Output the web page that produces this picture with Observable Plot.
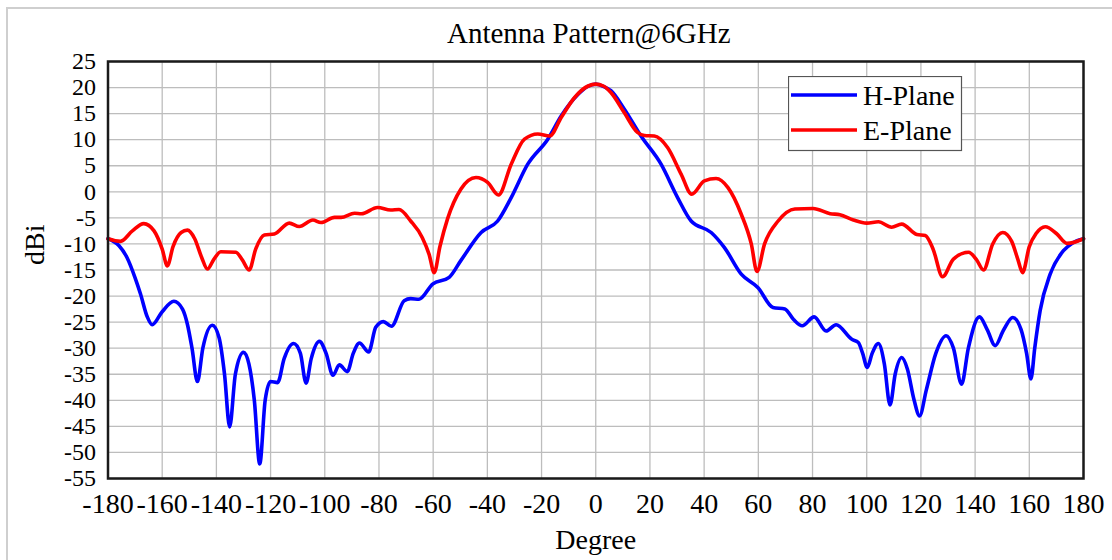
<!DOCTYPE html>
<html>
<head>
<meta charset="utf-8">
<script src="https://cdn.jsdelivr.net/npm/d3@7"></script>
<script src="https://cdn.jsdelivr.net/npm/@observablehq/plot@0.6"></script>
<style>
  html, body { margin: 0; padding: 0; background: #fff; }
  #wrap { position: relative; width: 1112px; height: 560px; overflow: hidden; }
  .edge { position: absolute; background: #cfcfcf; }
  #legend { position: absolute; left: 788px; top: 76px; }
</style>
</head>
<body>
<div id="wrap">
  <div class="edge" style="left:6px; top:7px; width:1106px; height:2px;"></div>
  <div class="edge" style="left:6px; top:7px; width:2px; height:553px;"></div>
  <div id="chart"></div>
  <div id="legend"></div>
</div>
<script>
// ---- data ----
const title = "Antenna Pattern@6GHz";
const xLabel = "Degree";
const yLabel = "dBi";
const seriesNames = ["H-Plane", "E-Plane"];
const seriesColors = ["#0000ff", "#ff0000"];
const xTicks = [-180,-160,-140,-120,-100,-80,-60,-40,-20,0,20,40,60,80,100,120,140,160,180];
const yTicks = [25,20,15,10,5,0,-5,-10,-15,-20,-25,-30,-35,-40,-45,-50,-55];

const hDeg = [-180,-176,-173,-170,-168,-165.5,-163.7,-160,-155.7,-152.5,-150.7,-149,-147,-145,-141.5,-139,-137,-135.1,-133,-130,-128,-126,-124,-122,-120,-117.4,-115,-111.5,-109,-106.9,-105,-102,-99.5,-97,-94.6,-91.7,-89.5,-87.2,-83.8,-81.2,-78.4,-75.4,-70.7,-68.3,-65.2,-60.2,-54.1,-49.8,-42.3,-36.2,-31.2,-25.1,-17.7,-12.7,-6.5,-3,0,3,5.6,10.5,16.7,24.1,30.2,35.2,42.6,47.5,53.7,59.9,65.4,69.8,73,76.2,80.6,85,88.7,94.5,96.9,98.5,100.2,102,104.3,106.5,108.6,110.5,112.9,115,117.5,119.5,122,125.5,129.3,132,135,137.5,141.6,144.5,147.4,150.5,153.9,157,159,160.6,162,164,167.7,172.6,176,180];
const hVal = [-9,-10.3,-12.6,-16.5,-19.6,-24,-25.5,-23,-21.0,-22.5,-25.4,-30,-36.4,-30,-25.6,-28,-35,-45.1,-35,-30.8,-33,-40,-52.2,-40,-36.4,-36.6,-32,-29.1,-31,-36.7,-32,-28.7,-31,-35.2,-33.2,-34.5,-31,-29.0,-30.7,-26.0,-24.9,-25.8,-20.9,-20.5,-20.6,-17.7,-16.4,-13.2,-7.8,-5.6,-1.1,5.3,10.1,14.6,18.7,20.2,20.65,20.2,19.4,15.9,10.7,5.3,-1.1,-5.6,-7.8,-10.7,-15.8,-18.4,-22.2,-22.5,-24.5,-25.7,-24.0,-26.7,-25.5,-28.3,-28.9,-31,-33.7,-31,-29.1,-33,-40.9,-35,-31.8,-34,-40,-43.0,-38,-31,-27.6,-30,-36.9,-30,-24.0,-26.5,-29.5,-26.5,-24.1,-26.5,-31,-35.9,-30,-22.8,-15.8,-11.3,-9.8,-9.0];

const eDeg = [-180,-175.4,-171,-166.8,-163,-160,-158.1,-156,-153,-150.7,-148,-145.5,-143.3,-141,-138.4,-132.8,-130.5,-127.9,-125.5,-122.3,-118.6,-113.1,-109.4,-104.4,-101.4,-96.4,-94,-89,-86.5,-80.5,-75.7,-72.6,-68.3,-64,-61.5,-59.6,-57.5,-54.7,-49.8,-44.2,-39.9,-35.9,-31.2,-26.3,-21.4,-17,-12.7,-7.8,-2.8,0,2.8,5.6,10.5,15.4,18,21.6,26.5,31.5,35.4,40.1,44.4,48.8,53.7,57.4,59.5,62.3,67.3,73.5,80.2,86.5,90.1,95.1,100,104.3,109.2,112.9,118.5,121.6,124.5,128,132,137.6,140.5,143.1,146.5,150.2,153.5,155.8,157.5,160,162.5,165.9,170,173.9,180];
const eVal = [-9,-9.5,-7.5,-6.1,-7.5,-11,-14.2,-10.5,-7.8,-7.35,-9,-12.5,-14.8,-13,-11.5,-11.6,-13,-15.0,-11,-8.3,-8.1,-6.0,-6.65,-5.4,-5.9,-4.9,-4.9,-4.1,-4.2,-3.0,-3.5,-3.4,-5.6,-8.8,-12,-15.5,-10.5,-5.2,0.5,2.75,1.8,-0.6,5.3,10.1,11.1,10.7,14.3,18.1,20.3,20.65,20.3,19.05,15.2,11.4,10.8,10.7,8.5,3.4,-0.45,2.1,2.55,0.8,-4.3,-10.0,-15.3,-10.0,-5.6,-3.3,-3.2,-4.2,-4.4,-5.4,-6.0,-5.75,-6.8,-6.2,-8.2,-8.4,-11,-16.3,-12.9,-11.6,-13,-15.0,-10,-7.8,-9.5,-13,-15.5,-10.5,-8,-6.7,-8,-9.9,-9.0];

const hRows = hDeg.map((d, i) => ({deg: d, val: hVal[i]}));
const eRows = eDeg.map((d, i) => ({deg: d, val: eVal[i]}));

const serif = "'Liberation Serif', 'Times New Roman', serif";

const chart = Plot.plot({
  width: 1112,
  height: 560,
  marginLeft: 107.5,
  marginRight: 29,
  marginTop: 61,
  marginBottom: 82,
  style: {fontFamily: serif, color: "#000", background: "transparent", overflow: "visible"},
  x: {domain: [-180, 180]},
  y: {domain: [-55, 25]},
  marks: [
    Plot.gridX(xTicks, {stroke: "#bdbdbd", strokeOpacity: 1, strokeWidth: 1.3}),
    Plot.gridY(yTicks, {stroke: "#bdbdbd", strokeOpacity: 1, strokeWidth: 1.3}),
    Plot.line(hRows, {x: "deg", y: "val", stroke: seriesColors[0], strokeWidth: 3.6, curve: "monotone-x"}),
    Plot.line(eRows, {x: "deg", y: "val", stroke: seriesColors[1], strokeWidth: 3.6, curve: "monotone-x"}),
    Plot.frame({stroke: "#1a1a1a", strokeWidth: 2.5}),
    Plot.axisX(xTicks, {tickSize: 0, tickPadding: 15, fontSize: 28, label: null, tickFormat: d => String(d)}),
    Plot.axisY(yTicks, {tickSize: 0, tickPadding: 12, fontSize: 24, label: null, tickFormat: d => String(d)}),
    Plot.text([title], {text: d => d, frameAnchor: "top", dx: -7, dy: -39, fontSize: 29}),
    Plot.text([xLabel], {text: d => d, frameAnchor: "bottom", dy: 70, fontSize: 28}),
    Plot.text([yLabel], {text: d => d, frameAnchor: "left", dx: -73, dy: -5, rotate: -90, fontSize: 28})
  ]
});
document.getElementById("chart").appendChild(chart);

// legend
const lg = d3.select("#legend").append("svg").attr("width", 175).attr("height", 76);
lg.append("rect").attr("x", 0.5).attr("y", 0.5).attr("width", 173).attr("height", 74)
  .attr("fill", "#fff").attr("stroke", "#555").attr("stroke-width", 1.2);
seriesNames.forEach((name, i) => {
  const y = 19 + i * 35;
  lg.append("line").attr("x1", 3).attr("x2", 69).attr("y1", y).attr("y2", y)
    .attr("stroke", seriesColors[i]).attr("stroke-width", 3.6);
  lg.append("text").attr("x", 75).attr("y", y + 10).text(name)
    .attr("font-family", serif).attr("font-size", 28).attr("fill", "#000");
});
</script>
</body>
</html>
